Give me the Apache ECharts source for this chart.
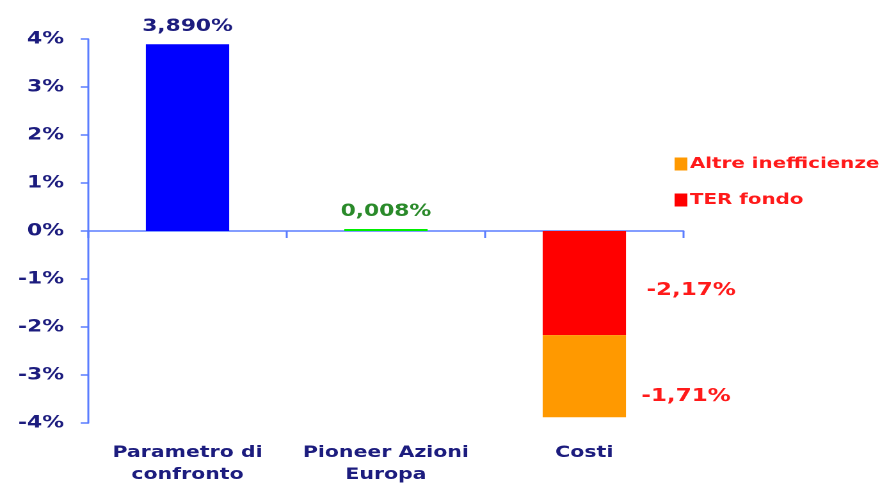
<!DOCTYPE html>
<html>
<head>
<meta charset="utf-8">
<script src="https://cdn.jsdelivr.net/npm/echarts@6/dist/echarts.min.js"></script>
<style>
  html, body { margin: 0; padding: 0; background: #fff; overflow: hidden; }
  /* il grafico originale è stirato in orizzontale */
  #myCharts { width: 693px; height: 486px; transform: scaleX(1.28); transform-origin: 0 0; }
</style>
</head>
<body>
<div id="myCharts"></div>
<script>
// dati
var categories = ['Parametro di\nconfronto', 'Pioneer Azioni\nEuropa', 'Costi']
var rendimenti = [3.890, 0.008, '-']
var terFondo = ['-', '-', -2.17]
var altreInefficienze = ['-', '-', -1.71]
var yTicks = [-4, -3, -2, -1, 0, 1, 2, 3, 4]

var navy = '#1c1c7e'
var axisBlue = '#5a7dff'
var font = 'DejaVu Sans'

var myCharts = echarts.init(document.getElementById('myCharts'), null, { renderer: 'canvas', devicePixelRatio: 2 })

var option = {
  animation: false,
  grid: { left: 69, right: 159, top: 39, bottom: 63 },
  legend: {
    data: ['Altre inefficienze', 'TER fondo'],
    orient: 'vertical',
    left: 522,
    top: 151,
    icon: 'rect',
    itemWidth: 10,
    itemHeight: 13,
    itemGap: 20,
    textStyle: { color: '#ff1a1a', fontFamily: font, fontWeight: 'bold', fontSize: 15.5, padding: [0, 0, 0, -3] }
  },
  xAxis: [
    {
      // linea dello zero con le tacche
      type: 'category',
      data: categories,
      position: 'top',
      axisLine: { onZero: true, lineStyle: { color: axisBlue, width: 1.5 } },
      axisTick: { show: true, inside: true, length: 7, lineStyle: { color: axisBlue, width: 1.5 } },
      axisLabel: { show: false }
    },
    {
      // etichette in basso
      type: 'category',
      data: categories,
      position: 'bottom',
      axisLine: { show: false },
      axisTick: { show: false },
      axisLabel: {
        interval: 0,
        hideOverlap: false,
        margin: 19,
        color: navy,
        fontFamily: font,
        fontWeight: 'bold',
        fontSize: 16,
        lineHeight: 22
      }
    }
  ],
  yAxis: {
    type: 'value',
    min: yTicks[0],
    max: yTicks[yTicks.length - 1],
    interval: 1,
    splitLine: { show: false },
    axisLine: { show: true, lineStyle: { color: axisBlue, width: 1.5 } },
    axisTick: { show: true, length: 6, lineStyle: { color: axisBlue, width: 1.5 } },
    axisLabel: {
      margin: 19,
      color: navy,
      fontFamily: font,
      fontWeight: 'bold',
      fontSize: 17,
      formatter: function (v) { return v + '%' }
    }
  },
  series: [
    {
      name: 'Rendimento',
      type: 'bar',
      stack: 'tot',
      barWidth: '42%',
      barMinHeight: 2,
      data: rendimenti.map(function (v, i) {
        var colori = ['#0000ff', '#00ee00']
        var labelColori = [navy, '#2a8a2a']
        return {
          value: v,
          itemStyle: { color: colori[i] },
          label: { color: labelColori[i] }
        }
      }),
      label: {
        show: true,
        position: 'top',
        distance: 9,
        fontFamily: font,
        fontWeight: 'bold',
        fontSize: 17,
        formatter: function (p) { return p.value.toFixed(3).replace('.', ',') + '%' }
      }
    },
    {
      name: 'TER fondo',
      type: 'bar',
      stack: 'tot',
      barWidth: '42%',
      itemStyle: { color: '#ff0000' },
      data: terFondo,
      label: {
        show: true,
        position: 'right',
        distance: 16,
        offset: [0, 7],
        color: '#ff1a1a',
        fontFamily: font,
        fontWeight: 'bold',
        fontSize: 18,
        formatter: function (p) { return p.value.toFixed(2).replace('.', ',') + '%' }
      }
    },
    {
      name: 'Altre inefficienze',
      type: 'bar',
      stack: 'tot',
      barWidth: '42%',
      itemStyle: { color: '#ff9900' },
      data: altreInefficienze,
      label: {
        show: true,
        position: 'right',
        distance: 12,
        offset: [0, 20],
        color: '#ff1a1a',
        fontFamily: font,
        fontWeight: 'bold',
        fontSize: 18,
        formatter: function (p) { return p.value.toFixed(2).replace('.', ',') + '%' }
      }
    }
  ]
}

myCharts.setOption(option)
</script>
</body>
</html>
